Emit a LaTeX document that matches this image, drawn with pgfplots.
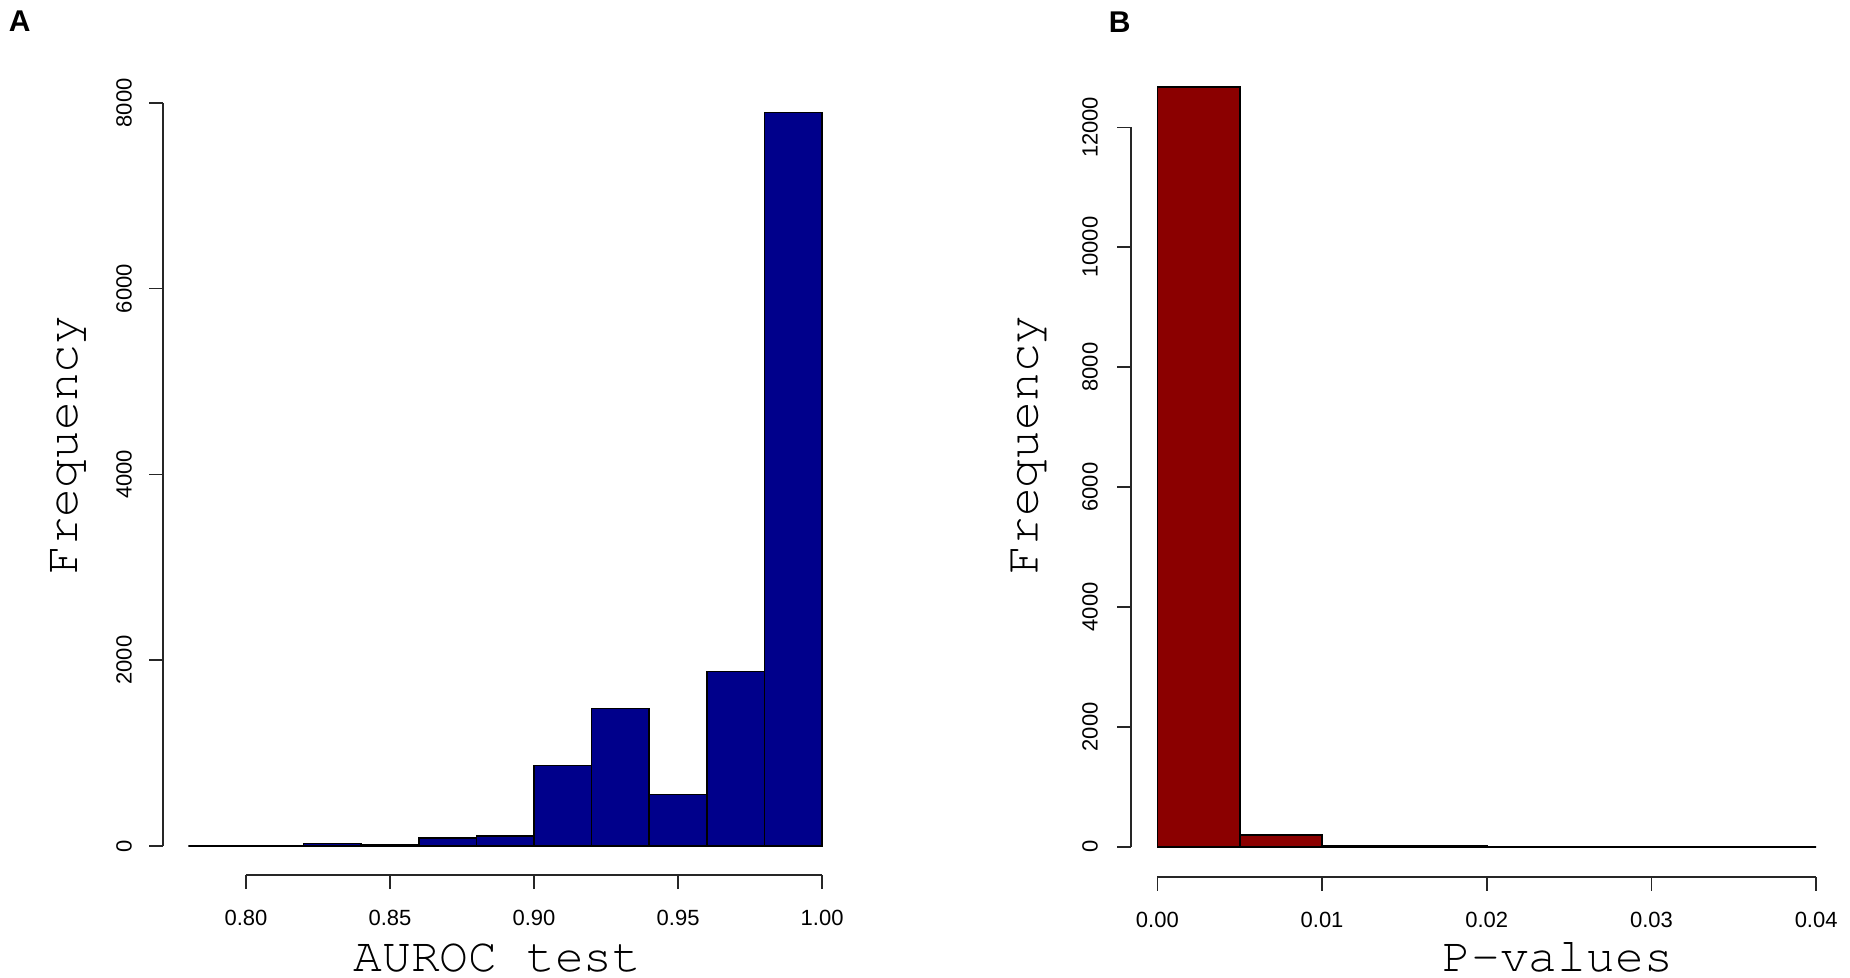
\documentclass[border=0pt]{standalone}
\usepackage[T1]{fontenc}
\usepackage{fontspec}
\setmainfont{Liberation Sans}
\newcommand\cour{\fontencoding{T1}\fontfamily{pcr}\selectfont}
\usepackage{pgfplots}
\pgfplotsset{compat=1.18}
\definecolor{rblue}{RGB}{0,0,139}
\definecolor{rred}{RGB}{139,0,0}

\pgfplotsset{rstyle/.style={
  scale only axis, anchor=south west,
  axis x line*=bottom, axis y line*=left,
  tick align=outside, major tick length=3.425pt,
  every tick/.style={black!85, line width=0.42pt},
  tick label style={font=\fontsize{5.5}{6.6}\selectfont},
  label style={font=\cour\fontsize{12}{14}\selectfont},
  xticklabel style={anchor=center, yshift=-7.25pt},
  scaled ticks=false,
  clip=false,
  /pgf/number format/assume math mode=true,
}}

\begin{document}
\begin{tikzpicture}
\path[use as bounding box] (0,0) rectangle (462.5pt,244.25pt);

% Panel A
\begin{axis}[rstyle,
  at={(40.75pt,25.425pt)}, width=171.125pt, height=198.025pt,
  xmin=0.7712, xmax=1.0088, ymin=-315.8, ymax=8210.8,
  x axis line style={black!85, line width=0.42pt, shorten <=20.74pt, shorten >=6.34pt},
  y axis line style={black!85, line width=0.42pt, shorten <=7.33pt, shorten >=4.9pt},
  xtick={0.80,0.85,0.90,0.95,1.00},
  xticklabels={0.80,0.85,0.90,0.95,1.00},
  ytick={0,2000,4000,6000,8000},
  yticklabels={0,2000,4000,6000,8000},
  yticklabel style={xshift=-6.3pt, rotate=90, anchor=center},
  xlabel={AUROC test}, ylabel={Frequency},
  xlabel style={at={(axis description cs:0.4887,-0.1217)}, anchor=base},
  ylabel style={at={(axis description cs:-0.1256,0.5432)}, anchor=base},
]
\addplot[ybar interval, fill=rblue, draw=black, line width=0.4pt] coordinates {
  (0.78,0) (0.80,0) (0.82,25) (0.84,8) (0.86,85) (0.88,105)
  (0.90,865) (0.92,1480) (0.94,555) (0.96,1880) (0.98,7895) (1.00,7895)};
\end{axis}

% Panel B
\begin{axis}[rstyle,
  at={(282.75pt,24.975pt)}, width=177.875pt, height=205.075pt,
  xmin=-0.0016, xmax=0.0416, ymin=-506.8, ymax=13176.8,
  x axis line style={black!85, line width=0.42pt, shorten <=6.59pt, shorten >=6.59pt},
  y axis line style={black!85, line width=0.42pt, shorten <=7.6pt, shorten >=17.64pt},
  xtick={0,0.01,0.02,0.03,0.04},
  xticklabels={0.00,0.01,0.02,0.03,0.04},
  ytick={0,2000,4000,6000,8000,10000,12000},
  yticklabels={0,2000,4000,6000,8000,10000,12000},
  yticklabel style={xshift=-6.8pt, rotate=90, anchor=center},
  xlabel={P-values}, ylabel={Frequency},
  xlabel style={at={(axis description cs:0.5996,-0.1153)}, anchor=base},
  ylabel style={at={(axis description cs:-0.1311,0.5268)}, anchor=base},
]
\addplot[ybar interval, fill=rred, draw=black, line width=0.4pt] coordinates {
  (0,12670) (0.005,200) (0.010,20) (0.015,15) (0.020,0) (0.025,0)
  (0.030,0) (0.035,0) (0.040,0)};
\end{axis}

\node[anchor=base west, inner sep=0, font=\bfseries\fontsize{7.5}{9}\selectfont] at (2pt,236.4pt) {A};
\node[anchor=base west, inner sep=0, font=\bfseries\fontsize{7.5}{9}\selectfont] at (277pt,236.2pt) {B};
\end{tikzpicture}
\end{document}
